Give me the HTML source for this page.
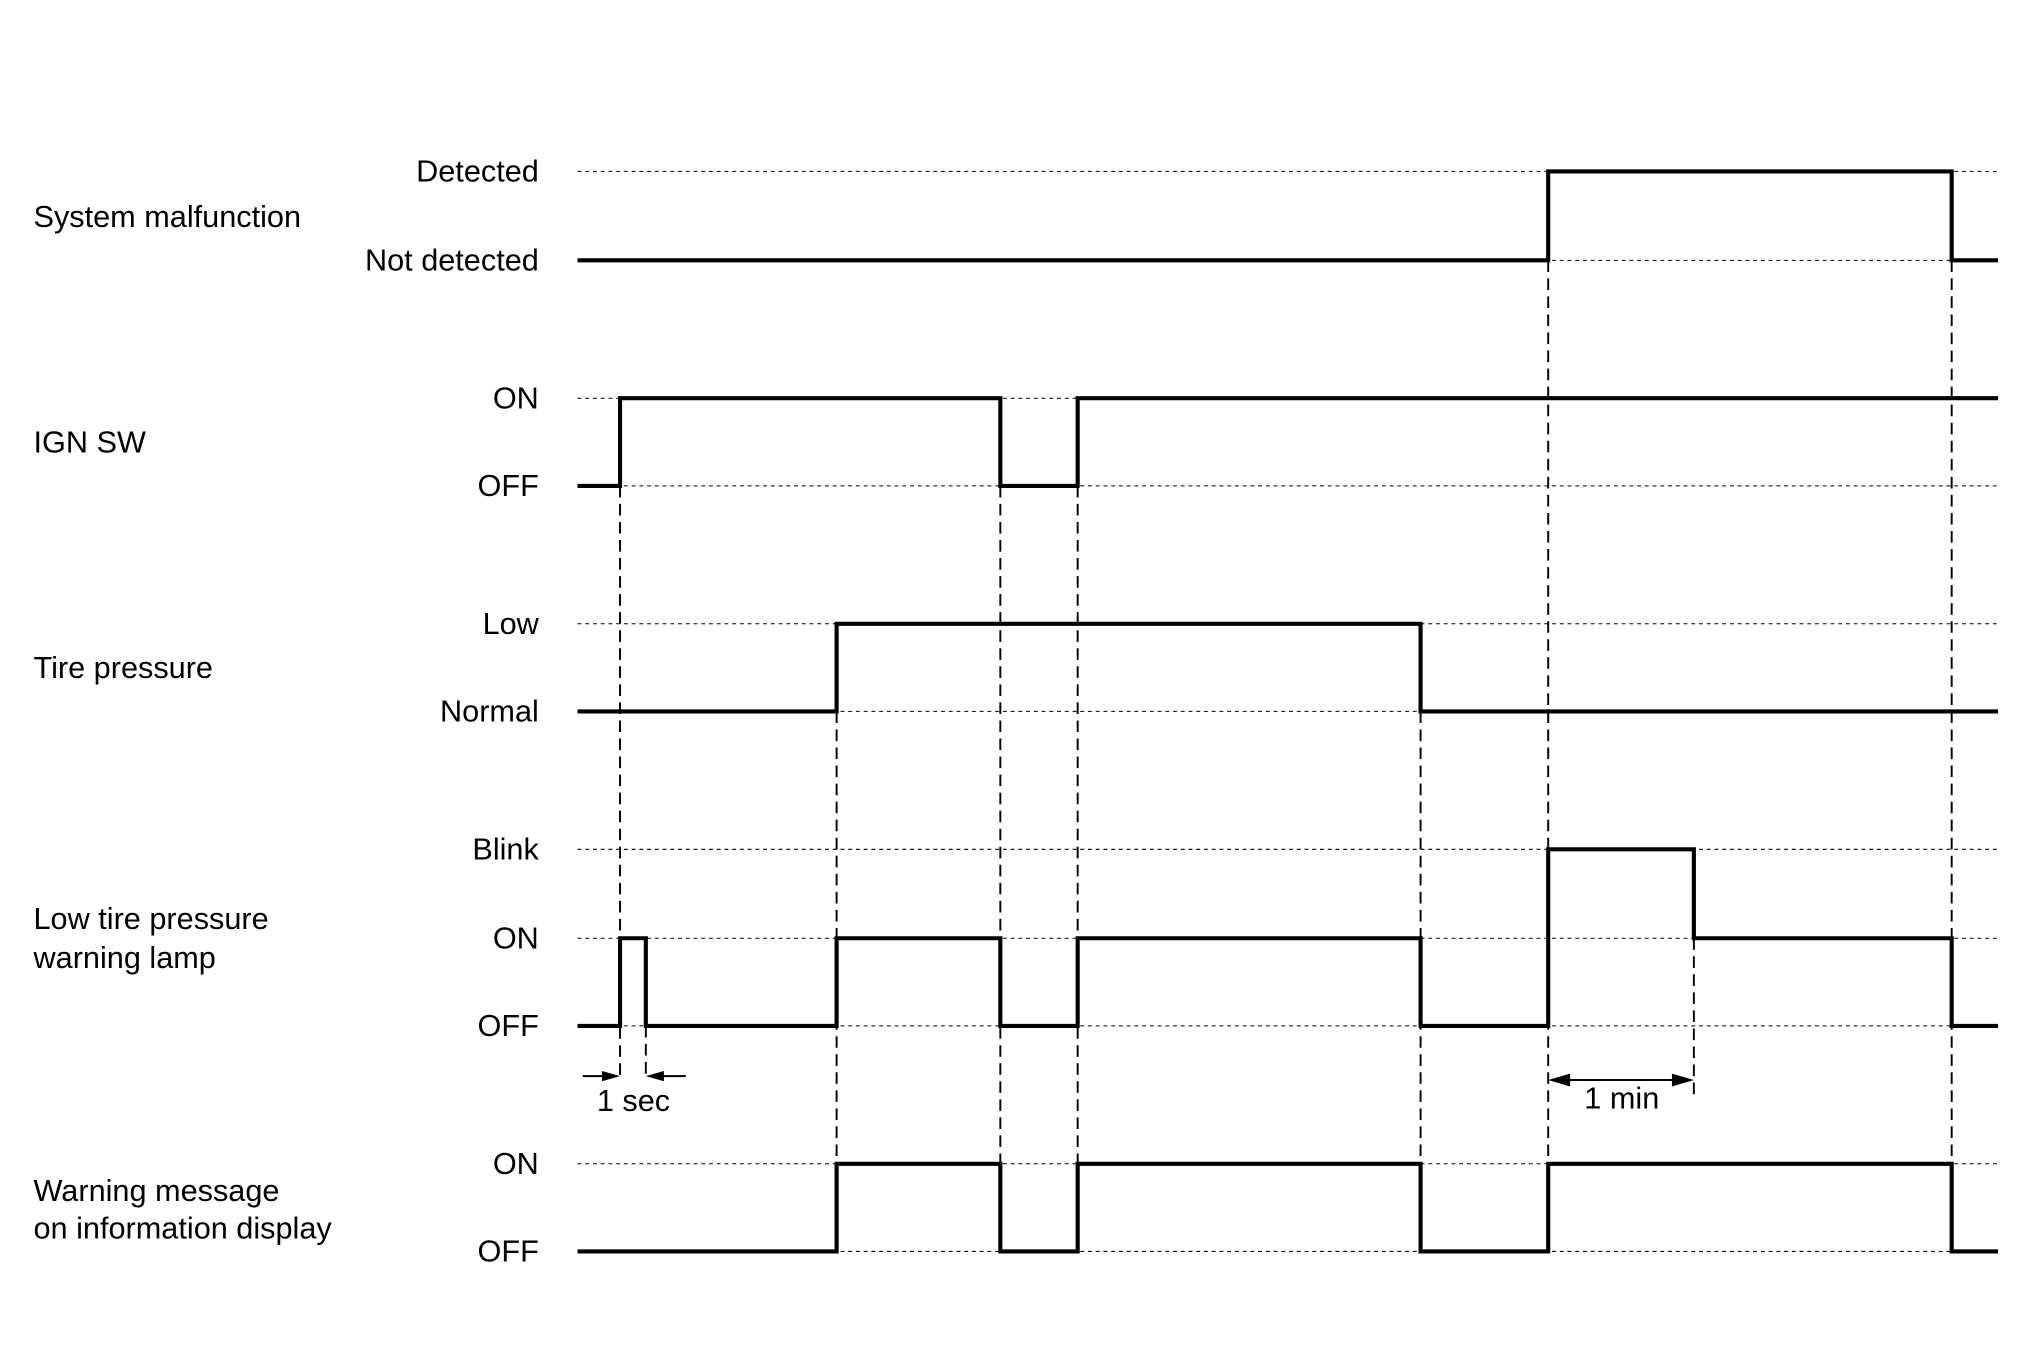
<!DOCTYPE html>
<html><head><meta charset="utf-8"><style>html,body{margin:0;padding:0;background:#fff}svg{display:block}</style></head>
<body>
<svg width="2020" height="1370" viewBox="0 0 1567 1063" preserveAspectRatio="none" xmlns="http://www.w3.org/2000/svg" font-family="Liberation Sans, Arial, sans-serif" font-size="23.8" fill="#000">
<g stroke="#000" stroke-width="0.8" stroke-dasharray="3,3">
<line x1="448" y1="133" x2="1550" y2="133"/><line x1="448" y1="202" x2="1550" y2="202"/>
<line x1="448" y1="309" x2="1550" y2="309"/><line x1="448" y1="377" x2="1550" y2="377"/>
<line x1="448" y1="484" x2="1550" y2="484"/><line x1="448" y1="552" x2="1550" y2="552"/>
<line x1="448" y1="659" x2="1550" y2="659"/><line x1="448" y1="728" x2="1550" y2="728"/><line x1="448" y1="796" x2="1550" y2="796"/>
<line x1="448" y1="903" x2="1550" y2="903"/><line x1="448" y1="971" x2="1550" y2="971"/>
</g>
<g stroke="#000" stroke-width="1.5" stroke-dasharray="9,5">
<line x1="481" y1="377" x2="481" y2="838"/>
<line x1="501" y1="796" x2="501" y2="838"/>
<line x1="649" y1="552" x2="649" y2="903"/>
<line x1="776" y1="377" x2="776" y2="903"/>
<line x1="836" y1="377" x2="836" y2="903"/>
<line x1="1102" y1="552" x2="1102" y2="903"/>
<line x1="1201" y1="202" x2="1201" y2="903"/>
<line x1="1314" y1="728" x2="1314" y2="852"/>
<line x1="1514" y1="202" x2="1514" y2="903"/>
</g>
<g fill="none" stroke="#000" stroke-width="3.2" stroke-linejoin="miter">
<polyline points="448,202 1201,202 1201,133 1514,133 1514,202 1550,202"/>
<polyline points="448,377 481,377 481,309 776,309 776,377 836,377 836,309 1550,309"/>
<polyline points="448,552 649,552 649,484 1102,484 1102,552 1550,552"/>
<polyline points="448,796 481,796 481,728 501,728 501,796 649,796 649,728 776,728 776,796 836,796 836,728 1102,728 1102,796 1201,796 1201,659 1314,659 1314,728 1514,728 1514,796 1550,796"/>
<polyline points="448,971 649,971 649,903 776,903 776,971 836,971 836,903 1102,903 1102,971 1201,971 1201,903 1514,903 1514,971 1550,971"/>
</g>
<g stroke="#000" stroke-width="1.5">
<line x1="452" y1="835" x2="470" y2="835"/><line x1="512" y1="835" x2="532" y2="835"/>
<line x1="1212" y1="838" x2="1303" y2="838"/>
</g>
<g fill="#000">
<polygon points="481,835 467,831 467,839"/>
<polygon points="501,835 515,831 515,839"/>
<polygon points="1201,838 1218,833 1218,843"/>
<polygon points="1314,838 1297,833 1297,843"/>
</g>
<g text-anchor="end">
<text x="418" y="141">Detected</text><text x="418" y="210">Not detected</text>
<text x="418" y="317">ON</text><text x="418" y="385">OFF</text>
<text x="418" y="492">Low</text><text x="418" y="560">Normal</text>
<text x="418" y="667">Blink</text><text x="418" y="736">ON</text><text x="418" y="804">OFF</text>
<text x="418" y="911">ON</text><text x="418" y="979">OFF</text>
</g>
<text x="26" y="176">System malfunction</text>
<text x="26" y="351">IGN SW</text>
<text x="26" y="526">Tire pressure</text>
<text x="26" y="721">Low tire pressure</text>
<text x="26" y="751">warning lamp</text>
<text x="26" y="932">Warning message</text>
<text x="26" y="961">on information display</text>
<text x="463" y="862">1 sec</text>
<text x="1229" y="860">1 min</text>
</svg>
</body></html>
